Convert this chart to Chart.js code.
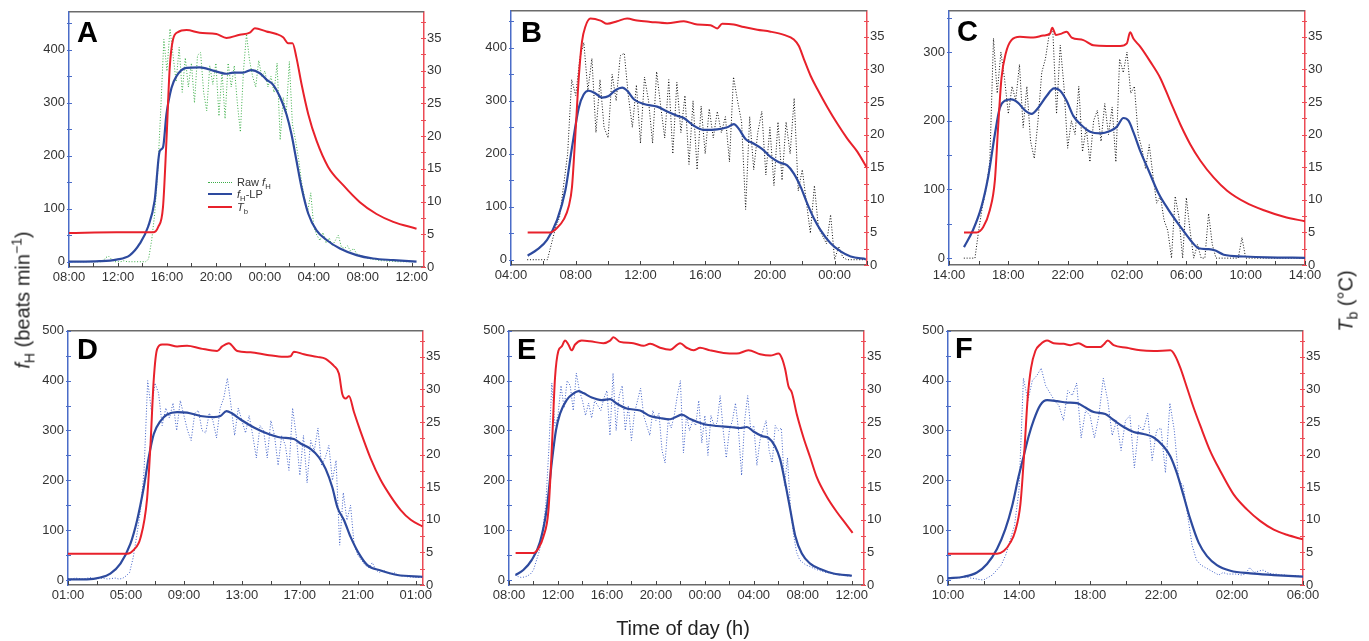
<!DOCTYPE html>
<html>
<head>
<meta charset="utf-8">
<script src="https://cdn.jsdelivr.net/npm/chart.js@4.4.1/dist/chart.umd.min.js"></script>
<style>
  body { margin: 0; background: #fff; }
  #page { position: relative; width: 1369px; height: 641px; overflow: hidden; font-family: 'Liberation Sans', Arial, sans-serif; color: #222; }
  canvas { position: absolute; }
  .title { position: absolute; font-size: 20px; white-space: nowrap; transform: translate(-50%, -50%); }
  .rot { transform: translate(-50%, -50%) rotate(-90deg); }
  .letter { position: absolute; font-size: 29px; font-weight: bold; line-height: 29px; color: #000; }
  .lg-line { position: absolute; width: 24px; height: 0; }
  .lg-text { position: absolute; font-size: 11px; line-height: 14px; color: #333; white-space: nowrap; }
  sub, sup { font-size: 70%; line-height: 0; }
</style>
</head>
<body>
<div id="page">
  <canvas id="cA"></canvas><canvas id="cB"></canvas><canvas id="cC"></canvas>
  <canvas id="cD"></canvas><canvas id="cE"></canvas><canvas id="cF"></canvas>

  <div class="letter" style="left:77px;top:18px">A</div>
  <div class="letter" style="left:521px;top:18px">B</div>
  <div class="letter" style="left:957px;top:17px">C</div>
  <div class="letter" style="left:77px;top:335px">D</div>
  <div class="letter" style="left:517px;top:335px">E</div>
  <div class="letter" style="left:955px;top:334px">F</div>

  <div class="lg-line" style="left:208px;top:182px;border-top:1.5px dotted #3dae49"></div>
  <div class="lg-text" style="left:237px;top:175px">Raw <i>f</i><sub>H</sub></div>
  <div class="lg-line" style="left:208px;top:193px;border-top:2px solid #2d4a9e"></div>
  <div class="lg-text" style="left:237px;top:187px"><i>f</i><sub>H</sub>-LP</div>
  <div class="lg-line" style="left:208px;top:206px;border-top:2px solid #e8212b"></div>
  <div class="lg-text" style="left:237px;top:200px"><i>T</i><sub>b</sub></div>

  <div class="title rot" style="left:23px;top:300px"><i>f</i><sub>H</sub> (beats min<sup>−1</sup>)</div>
  <div class="title rot" style="left:1346px;top:301px"><i>T</i><sub>b</sub> (°C)</div>
  <div class="title" style="left:683px;top:628px">Time of day (h)</div>
</div>
<script>
// times are clock hours, values past 24 belong to the next day
const RAW_STEP = 0.25;

// A
const aTbTime = [8.0, 11.87, 14.87, 15.28, 15.68, 15.96, 16.23, 16.5, 16.9, 17.6, 18.68, 20.04, 20.86, 21.95, 22.77, 23.18, 24.13, 24.95, 25.49, 25.9, 26.26, 26.58, 26.99, 27.54, 28.22, 29.17, 30.4, 31.76, 33.12, 34.49, 36.39];
const aTbVal = [5.2, 5.3, 5.3, 6.1, 9.2, 19.3, 30.5, 34.8, 35.9, 36.2, 35.8, 35.6, 35.0, 35.5, 35.8, 36.5, 36.0, 35.6, 35.1, 34.2, 34.2, 32.0, 28.0, 23.4, 19.3, 15.3, 12.5, 9.9, 8.1, 6.9, 5.85];
const aLpTime = [8.0, 10.5, 11.87, 12.96, 13.78, 14.46, 15.0, 15.41, 15.68, 15.96, 16.37, 16.77, 17.59, 18.68, 19.77, 20.86, 21.4, 22.22, 22.9, 23.59, 24.13, 24.68, 25.22, 25.77, 26.17, 26.58, 26.99, 27.54, 28.22, 29.04, 30.13, 31.49, 32.85, 34.49, 36.39];
const aLpVal = [0, 1, 4, 12, 34, 66, 116, 209, 216, 278, 328, 350, 366, 367, 361, 355, 357, 357, 362, 356, 344, 334, 312, 278, 241, 191, 141, 91, 59, 41, 25, 12.5, 6, 3, 0];
const aRawStart = 8.0;
const aRawVal = [0,0,0,0,0,0,0,0,0,0,0,0, 8,10,4,0,0,0,2,0,0,0,0,0,0,0, 5,40,90,170,290,420,360,440,
  390,340,405,320,385,330,375,300,390,395,320,285,370,335,375,275,360,270,375,330,370,300,245,360,430,380,350,330,380,350,
  360,330,350,320,375,230,310,280,378,260,230,195,150,120,95,130,65,50,40,55,35,45,30,40,50,28,25,30,20,25,15,12,10,8,6,5,4,
  3,2,2,1,1,1,0,0,0,0,0,0,0];

// B
const bTbTime = [5.03, 6.43, 6.85, 7.26, 7.57, 7.77, 7.98, 8.19, 8.39, 8.6, 8.91, 9.53, 9.94, 10.56, 11.18, 11.79, 12.62, 13.65, 14.68, 15.51, 16.33, 16.74, 17.05, 17.77, 18.39, 19.22, 20.04, 20.87, 21.48, 21.79, 22.1, 22.52, 22.93, 23.55, 24.16, 24.78, 25.4, 26.02];
const bTbVal = [5.0, 5.0, 5.7, 7.0, 9.0, 12.0, 20.1, 28.8, 34.3, 36.6, 37.8, 37.5, 37.0, 37.4, 37.8, 37.5, 37.3, 37.1, 37.4, 36.9, 36.8, 36.3, 37.0, 36.9, 36.5, 36.1, 35.8, 35.3, 34.6, 33.6, 31.6, 29.0, 27.0, 24.2, 21.7, 19.4, 17.4, 14.8];
const bLpTime = [5.03, 5.61, 6.23, 6.85, 7.36, 7.77, 8.19, 8.49, 8.8, 9.22, 9.63, 10.04, 10.45, 10.87, 11.18, 11.59, 12.21, 13.03, 13.65, 14.27, 14.68, 15.3, 15.92, 16.74, 17.36, 17.77, 18.08, 18.49, 19.01, 19.53, 20.04, 20.56, 21.07, 21.48, 21.9, 22.31, 22.72, 23.13, 23.75, 24.37, 24.99, 25.92];
const bLpVal = [7.5, 19, 37.5, 75, 131, 212, 287, 312, 319, 314, 306, 309, 320, 325, 319, 303, 294, 289, 280, 272, 267.5, 253, 245, 246, 250, 256, 247, 228, 219, 209, 194, 184, 178, 162.5, 137.5, 106, 78, 56, 31, 15.6, 6, 1.2];
const bRawStart = 5.0;
const bRawVal = [0,0,0,0,0,0, 30,60,80,140,200,340,310,380,410,320,380,240,340,250,230,350,300,385,390,310,250,330,220,345,
  300,220,355,290,230,340,200,335,240,310,180,300,170,290,200,285,230,280,240,270,185,345,300,260,95,270,170,240,280,160,
  250,140,260,150,260,200,305,130,170,110,50,140,60,45,30,85,0,25,5,0,0,0,0,0,0];

// C
const cTbTime = [15.01, 15.85, 16.3, 16.75, 17.09, 17.31, 17.54, 17.83, 18.21, 18.78, 19.68, 20.35, 20.81, 20.96, 21.21, 21.59, 21.93, 22.27, 23.06, 23.74, 24.64, 25.54, 25.99, 26.21, 26.44, 26.89, 27.57, 28.24, 28.92, 29.59, 30.27, 30.95, 31.85, 32.75, 33.99, 35.23, 36.58, 38.0];
const cTbVal = [5.0, 5.0, 5.8, 8.4, 12.9, 21.1, 28.7, 32.5, 34.5, 35.0, 34.9, 35.2, 35.5, 36.4, 35.3, 35.5, 35.8, 34.9, 34.5, 33.7, 33.6, 33.6, 34.0, 35.7, 34.7, 33.5, 31.2, 28.7, 25.1, 21.6, 18.5, 16.0, 13.4, 11.4, 9.6, 8.4, 7.4, 6.7];
const cLpTime = [15.01, 15.62, 16.19, 16.64, 17.09, 17.43, 17.76, 18.21, 18.66, 19.12, 19.57, 20.02, 20.58, 21.08, 21.48, 21.93, 22.38, 22.95, 23.51, 24.19, 24.86, 25.31, 25.76, 26.1, 26.44, 26.89, 27.45, 28.13, 28.81, 29.59, 30.27, 30.83, 31.51, 31.96, 32.52, 33.88, 35.45, 38.0];
const cLpVal = [16, 41, 75, 118, 180, 219, 229, 231, 226, 215, 210, 219, 236, 247, 244, 229, 207, 193, 184, 181.5, 185, 191, 204, 200, 183, 156, 128, 94, 70, 46, 26.5, 14.4, 13, 11, 5, 2.4, 1, 0.5];
const cRawStart = 15.0;
const cRawVal = [0,0,0,0,40,75,100,140,320,240,300,260,210,250,230,282,190,250,170,145,200,270,290,325,330,210,310,250,160,200,
  180,250,155,190,140,200,215,170,225,180,220,140,290,270,300,240,250,180,160,130,165,120,80,90,55,40,0,90,60,0,
  88,40,0,20,0,0,65,20,0,0,0,0,0,0,0,30,0, 0,0,0,0,0,0,0,0,0,0,0,0,0,0,0,0];

// D
const dTbTime = [1.0, 5.08, 5.54, 6.0, 6.46, 6.69, 6.92, 7.15, 7.49, 7.84, 8.53, 9.22, 10.14, 11.29, 11.64, 12.1, 12.68, 13.6, 14.75, 15.9, 16.36, 16.59, 17.28, 18.2, 18.78, 19.13, 19.36, 19.7, 19.93, 20.16, 20.39, 20.74, 21.2, 21.89, 22.58, 23.27, 23.96, 24.65, 25.46];
const dTbVal = [4.8, 4.8, 5.4, 7.2, 13.3, 21.4, 31.6, 36.2, 36.9, 36.9, 36.6, 36.7, 36.3, 35.9, 36.6, 37.1, 35.9, 35.7, 35.3, 35.0, 35.1, 35.8, 35.4, 35.0, 34.7, 34.1, 33.6, 32.4, 29.3, 28.6, 29.0, 26.5, 23.5, 19.4, 16.1, 13.6, 11.5, 10.0, 9.0];
const dLpTime = [1.0, 2.31, 3.23, 3.92, 4.62, 5.31, 5.77, 6.23, 6.57, 6.92, 7.38, 7.84, 8.53, 9.22, 10.14, 11.06, 11.52, 11.94, 12.33, 12.91, 13.83, 14.75, 15.67, 16.59, 17.05, 17.74, 18.32, 18.78, 19.24, 19.59, 20.05, 20.51, 21.08, 21.66, 22.58, 23.73, 25.46];
const dLpVal = [1.3, 1.3, 5, 13, 33, 73, 120, 186, 246, 293, 319, 332, 337, 336, 329, 327, 329, 339, 334, 322, 306, 294, 286, 283, 274, 263, 246, 223, 186, 146, 120, 86, 53, 30, 19, 10, 6.6];
const dRawStart = 1.0;
const dRawVal = [3,2,4,3,2,3,5,3,2,4,3,2,3,4,2,3, 8,15,45,90,140,220,400,340,395,375,310,345,325,355,300,360,330,300,280,
  335,340,300,295,335,320,285,345,365,405,350,290,345,320,295,330,290,245,310,300,245,320,290,230,290,270,220,345,290,
  210,290,195,280,260,305,230,245,270,200,240,70,175,120,150,70,50,40,30,25,35,20,15,20,15,12,15,10,8,8,6,6,5,5,5];

// E
const eTbTime = [8.54, 9.99, 10.4, 10.81, 11.22, 11.49, 11.76, 12.03, 12.31, 12.58, 12.85, 13.12, 13.4, 13.94, 14.62, 15.71, 16.26, 16.53, 17.07, 18.16, 18.98, 19.53, 20.34, 21.16, 21.98, 22.52, 23.07, 23.61, 24.43, 25.52, 26.61, 27.56, 28.52, 29.34, 30.02, 30.29, 30.56, 30.83, 31.11, 31.51, 32.06, 32.6, 33.15, 33.97, 34.78, 35.47, 36.07];
const eTbVal = [4.9, 4.9, 5.6, 7.4, 11.4, 20.6, 31.8, 35.9, 36.6, 37.5, 36.9, 36.0, 36.9, 37.5, 37.4, 37.1, 37.5, 38.0, 37.3, 37.1, 36.7, 37.0, 36.4, 36.1, 37.1, 36.4, 36.0, 36.4, 36.0, 35.6, 35.5, 36.0, 35.4, 35.2, 35.5, 34.8, 33.1, 30.5, 29.5, 26.2, 22.6, 19.6, 16.5, 13.5, 11.2, 9.5, 8.0];
const eLpTime = [8.54, 9.17, 9.85, 10.53, 11.08, 11.49, 11.84, 12.17, 12.71, 13.26, 13.67, 14.08, 14.76, 15.57, 16.26, 16.8, 17.62, 18.71, 19.53, 20.34, 21.16, 21.71, 22.11, 22.8, 23.89, 24.98, 26.07, 26.88, 27.43, 27.97, 28.65, 29.2, 29.74, 30.15, 30.56, 30.97, 31.38, 31.92, 32.6, 33.42, 34.51, 36.01];
const eLpVal = [10, 20, 40, 76, 142, 235, 301, 334, 361, 374, 379, 375, 366, 361, 363, 354, 344, 340, 329, 325, 322.5, 328, 332, 323, 313, 309, 307, 305, 307, 298, 289, 285, 268, 242, 195, 142, 89, 53, 33, 22, 13, 8.6];
const eRawStart = 8.5;
const eRawVal = [10,7,5,6,8,12,20,40,60,100,150,260,395,310,330,390,345,400,390,340,415,380,360,330,355,325,360,350,340,365,
  380,290,415,300,370,390,300,350,280,335,360,385,330,310,290,340,320,335,260,235,320,305,330,370,400,255,330,300,320,310,
  360,275,330,250,330,310,315,370,300,245,300,320,355,300,210,320,370,300,310,230,280,300,320,260,235,310,300,305,190,245,
  140,90,55,40,35,30,28,25,22,20,18,16,15,14,12,12,10,10,9,8,8];

// F
const fTbTime = [10.0, 12.76, 13.14, 13.51, 13.79, 14.08, 14.3, 14.49, 14.68, 14.92, 15.2, 15.58, 15.95, 16.52, 16.89, 17.36, 17.83, 18.58, 18.77, 19.0, 19.33, 20.08, 20.84, 21.59, 22.53, 22.81, 23.09, 23.46, 23.84, 24.22, 24.78, 25.34, 26.09, 26.84, 27.6, 28.35, 29.1, 30.0];
const fTbVal = [4.8, 4.8, 5.2, 6.5, 8.3, 12.4, 20.5, 28.7, 33.3, 35.9, 36.9, 37.5, 37.1, 37.0, 36.8, 37.1, 36.5, 36.5, 36.9, 37.5, 36.8, 36.4, 36.0, 35.9, 36.0, 35.1, 33.3, 30.3, 27.2, 24.4, 20.5, 17.5, 13.9, 11.6, 9.8, 8.5, 7.7, 7.0];
const fLpTime = [10.0, 10.88, 11.63, 12.2, 12.76, 13.23, 13.61, 13.98, 14.26, 14.54, 14.83, 15.2, 15.58, 16.14, 16.7, 17.27, 17.74, 18.21, 18.86, 19.33, 19.9, 20.46, 21.02, 21.59, 22.15, 22.53, 22.9, 23.28, 23.65, 24.12, 24.59, 25.15, 25.91, 27.03, 28.35, 30.0];
const fLpVal = [3.3, 6.6, 15, 32, 62, 102, 148, 208, 248, 288, 321, 351, 361, 359, 356, 355, 346, 337, 333, 321, 307, 297, 293, 286, 268, 248, 214, 168, 122, 75, 48, 30, 18.6, 13.3, 10, 6.6];
const fRawStart = 10.0;
const fRawVal = [5,5,4,5,6,4,3,1,0,5,10,20,30,50,80,110,180,405,360,400,410,425,390,375,360,350,320,380,370,395,
  285,340,330,285,330,405,360,290,320,260,320,330,225,310,300,335,240,300,305,215,355,300,200,190,130,70,40,30,25,20,
  15,10,15,12,12,12,10,12,25,15,18,20,15,12,12,10,10,8,9,8,7];

const RED = '#e8212b';
const BLUE = '#2d4a9e';
const GREEN = '#3dae49';
const BLACK = '#111111';
const LIGHTBLUE = '#4262c8';
const GREY = '#6b6b6b';
const AXIS_BLUE = '#4a6cc8';
const AXIS_RED = '#ec4b55';
const FONT = { family: "'Liberation Sans', Arial, sans-serif", size: 13 };

const panels = [
  { id: 'cA', box: [69, 10, 355, 257], xMin: 8, xMax: 37, yMax: 472, yTop: 450, tbT: aTbTime, tbV: aTbVal, lpT: aLpTime, lpV: aLpVal, rs: aRawStart, raw: aRawVal, rawColor: GREEN },
  { id: 'cB', box: [511, 9, 356, 256], xMin: 4, xMax: 26, yMax: 470, yTop: 450, tbT: bTbTime, tbV: bTbVal, lpT: bLpTime, lpV: bLpVal, rs: bRawStart, raw: bRawVal, rawColor: BLACK },
  { id: 'cC', box: [949, 9, 356, 256], xMin: 14, xMax: 38, yMax: 360, yTop: 350, tbT: cTbTime, tbV: cTbVal, lpT: cLpTime, lpV: cLpVal, rs: cRawStart, raw: cRawVal, rawColor: BLACK },
  { id: 'cD', box: [68, 329, 355, 256], xMin: 1, xMax: 25.5, yMax: 500, yTop: 500, tbT: dTbTime, tbV: dTbVal, lpT: dLpTime, lpV: dLpVal, rs: dRawStart, raw: dRawVal, rawColor: LIGHTBLUE },
  { id: 'cE', box: [509, 329, 355, 256], xMin: 8, xMax: 37, yMax: 500, yTop: 500, tbT: eTbTime, tbV: eTbVal, lpT: eLpTime, lpV: eLpVal, rs: eRawStart, raw: eRawVal, rawColor: LIGHTBLUE },
  { id: 'cF', box: [948, 329, 355, 256], xMin: 10, xMax: 30, yMax: 500, yTop: 500, tbT: fTbTime, tbV: fTbVal, lpT: fLpTime, lpV: fLpVal, rs: fRawStart, raw: fRawVal, rawColor: LIGHTBLUE }
];

const PAD_L = 50, PAD_R = 40, PAD_T = 10, PAD_B = 30;

function range(from, to, step) {
  const out = [];
  for (let v = from; v <= to + 1e-9; v += step) out.push(v);
  return out;
}

function clock(h) {
  const hh = ((h % 24) + 24) % 24;
  return String(hh).padStart(2, '0') + ':00';
}

// frame top line and tick marks that cross the axes / point inward
const frame = {
  id: 'frame',
  afterDraw(chart) {
    const { ctx, chartArea: a, scales } = chart;
    ctx.save();
    ctx.strokeStyle = GREY;
    ctx.lineWidth = 1.5;
    ctx.beginPath();
    ctx.moveTo(a.left, a.top);
    ctx.lineTo(a.right, a.top);
    ctx.stroke();

    ctx.lineWidth = 1;
    ctx.strokeStyle = AXIS_BLUE;
    ctx.beginPath();
    scales.y.ticks.forEach(t => {
      const py = Math.round(scales.y.getPixelForValue(t.value)) + 0.5;
      ctx.moveTo(a.left - 2, py);
      ctx.lineTo(a.left + 3, py);
    });
    ctx.stroke();

    ctx.strokeStyle = AXIS_RED;
    ctx.beginPath();
    scales.y1.ticks.forEach(t => {
      const py = Math.round(scales.y1.getPixelForValue(t.value)) + 0.5;
      ctx.moveTo(a.right - 3, py);
      ctx.lineTo(a.right + 2, py);
    });
    ctx.stroke();

    ctx.strokeStyle = '#444';
    ctx.beginPath();
    scales.x.ticks.forEach(t => {
      const px = Math.round(scales.x.getPixelForValue(t.value)) + 0.5;
      ctx.moveTo(px, a.bottom);
      ctx.lineTo(px, a.bottom - 4);
    });
    ctx.stroke();
    ctx.restore();
  }
};

panels.forEach(p => {
  const [left, top, w, h] = p.box;
  const canvas = document.getElementById(p.id);
  canvas.width = PAD_L + w + PAD_R;
  canvas.height = PAD_T + h + PAD_B;
  canvas.style.left = (left - PAD_L) + 'px';
  canvas.style.top = (top - PAD_T) + 'px';

  const xTicks = range(p.xMin, p.xMax, 2);
  const yTicks = range(0, p.yTop, 50);
  const y1Ticks = range(0, 37.5, 2.5);

  new Chart(canvas, {
    type: 'line',
    data: {
      datasets: [
        {
          label: 'Tb', yAxisID: 'y1',
          data: p.tbT.map((t, i) => ({ x: t, y: p.tbV[i] })),
          borderColor: RED, borderWidth: 2, cubicInterpolationMode: 'monotone'
        },
        {
          label: 'fH-LP', yAxisID: 'y',
          data: p.lpT.map((t, i) => ({ x: t, y: p.lpV[i] })),
          borderColor: BLUE, borderWidth: 2.2, cubicInterpolationMode: 'monotone'
        },
        {
          label: 'Raw fH', yAxisID: 'y',
          data: p.raw.map((v, i) => ({ x: p.rs + i * RAW_STEP, y: v })),
          borderColor: p.rawColor, borderWidth: 1, borderDash: [1, 1.8], tension: 0
        }
      ]
    },
    options: {
      responsive: false,
      animation: false,
      devicePixelRatio: 1,
      layout: { padding: { top: PAD_T, left: 0, right: 0, bottom: 0 } },
      elements: { point: { radius: 0 } },
      plugins: { legend: { display: false }, tooltip: { enabled: false } },
      scales: {
        x: {
          type: 'linear', min: p.xMin, max: p.xMax,
          afterBuildTicks: ax => { ax.ticks = xTicks.map(v => ({ value: v })); },
          afterFit: s => { s.height = PAD_B; },
          grid: { display: false, drawTicks: false },
          border: { color: GREY, width: 1.5 },
          ticks: {
            autoSkip: false, maxRotation: 0, padding: 3, font: FONT, color: '#333',
            callback: v => ((v - p.xMin) % 4 === 0 ? clock(v) : '')
          }
        },
        y: {
          type: 'linear', position: 'left', min: -10, max: p.yMax,
          afterBuildTicks: ax => { ax.ticks = yTicks.map(v => ({ value: v })); },
          afterFit: s => { s.width = PAD_L; },
          grid: { display: false, drawTicks: false },
          border: { color: AXIS_BLUE, width: 1.5 },
          ticks: {
            autoSkip: false, padding: 4, font: FONT, color: '#333',
            callback: v => (v % 100 === 0 ? String(v) : '')
          }
        },
        y1: {
          type: 'linear', position: 'right', min: 0, max: 39,
          afterBuildTicks: ax => { ax.ticks = y1Ticks.map(v => ({ value: v })); },
          afterFit: s => { s.width = PAD_R; },
          grid: { display: false, drawTicks: false },
          border: { color: AXIS_RED, width: 1.5 },
          ticks: {
            autoSkip: false, padding: 3, font: FONT, color: '#333',
            callback: v => (v % 5 === 0 ? String(v) : '')
          }
        }
      }
    },
    plugins: [frame]
  });
});
</script>
</body>
</html>
